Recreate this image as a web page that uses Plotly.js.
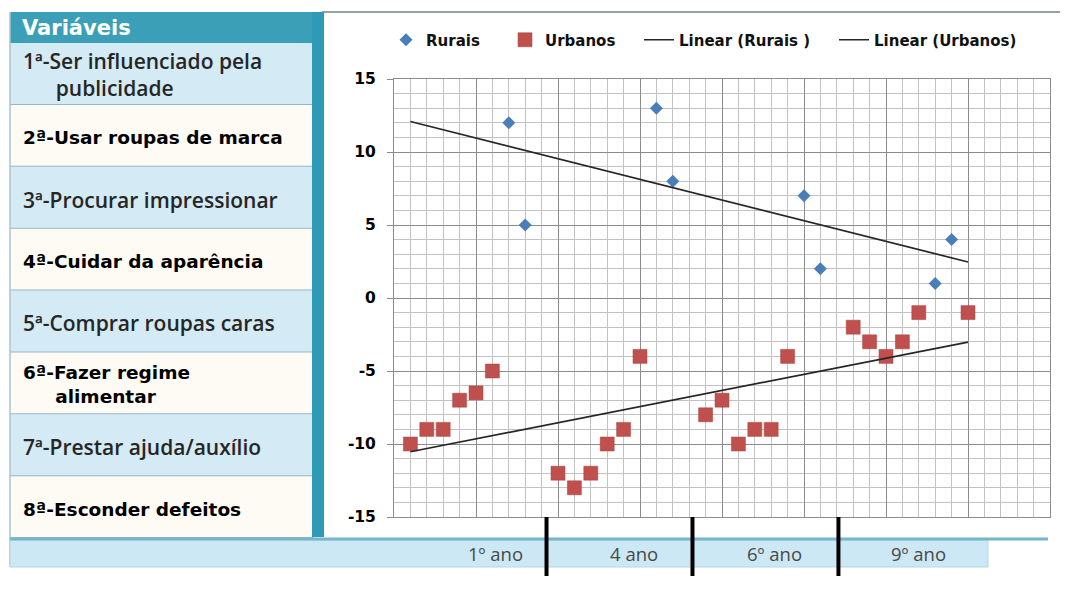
<!DOCTYPE html>
<html>
<head>
<meta charset="utf-8">
<script src="https://cdn.plot.ly/plotly-3.0.1.min.js"></script>
<style>html,body{margin:0;padding:0;background:#fff;}#chart{width:1067px;height:600px;}</style>
</head>
<body>
<div id="chart"></div>
<script>
// ---- data ----
const ruraisX = [7, 8, 16, 17, 25, 26, 33, 34];
const ruraisY = [12, 5, 13, 8, 7, 2, 1, 4];
const urbanosX = [1, 2, 3, 4, 5, 6, 10, 11, 12, 13, 14, 15, 19, 20, 21, 22, 23, 24, 28, 29, 30, 31, 32, 35];
const urbanosY = [-10, -9, -9, -7, -6.5, -5, -12, -13, -12, -10, -9, -4, -8, -7, -10, -9, -9, -4, -2, -3, -4, -3, -1, -1];
const seriesNames = ['Rurais', 'Urbanos', 'Linear (Rurais )', 'Linear (Urbanos)'];
const headerLabel = 'Variáveis';
const variaveis = [
  ['1ª-Ser influenciado pela', 'publicidade'],
  ['2ª-Usar roupas de marca'],
  ['3ª-Procurar impressionar'],
  ['4ª-Cuidar da aparência'],
  ['5ª-Comprar roupas caras'],
  ['6ª-Fazer regime', 'alimentar'],
  ['7ª-Prestar ajuda/auxílio'],
  ['8ª-Esconder defeitos']
];
const anos = ['1º ano', '4 ano', '6º ano', '9º ano'];
const yTickVals = [-15, -10, -5, 0, 5, 10, 15];

// ---- helpers ----
function fit(xs, ys) {
  const n = xs.length;
  const mx = xs.reduce((a, b) => a + b, 0) / n;
  const my = ys.reduce((a, b) => a + b, 0) / n;
  let sxy = 0, sxx = 0;
  for (let i = 0; i < n; i++) { sxy += (xs[i] - mx) * (ys[i] - my); sxx += (xs[i] - mx) * (xs[i] - mx); }
  const m = sxy / sxx;
  return { m: m, b: my - m * mx };
}
const allX = ruraisX.concat(urbanosX);
const xMin = Math.min.apply(null, allX), xMax = Math.max.apply(null, allX);
const fR = fit(ruraisX, ruraisY), fU = fit(urbanosX, urbanosY);

// pixel -> paper
const PL = 394, PR = 1050, PT = 79, PB = 517;
const px = x => (x - PL) / (PR - PL);
const py = y => (PB - y) / (PB - PT);

const TEAL = '#3a9fb7';
const LIGHT = '#d4eaf4';
const CREAM = '#fdfbf4';
const SEP = '#93b8c8';

const shapes = [];
const annotations = [];

// chart area top frame line
shapes.push({type: 'line', xref: 'paper', yref: 'paper', x0: px(322), x1: px(1060), y0: py(12), y1: py(12), line: {color: '#97a3a3', width: 2}});

// left table header
shapes.push({type: 'rect', xref: 'paper', yref: 'paper', x0: px(10), x1: px(313), y0: py(12), y1: py(43), fillcolor: TEAL, line: {width: 0}});
annotations.push({xref: 'paper', yref: 'paper', x: px(20), y: py(28), xanchor: 'left', yanchor: 'middle', showarrow: false,
  text: headerLabel, font: {family: 'DejaVu Sans', size: 21, color: '#ffffff', weight: 'bold'}});

// rows
const rowTop = 43, rowH = (538 - 43) / variaveis.length;
const NB = '\u00a0';
variaveis.forEach((lines, i) => {
  const y0 = rowTop + i * rowH, y1 = y0 + rowH;
  shapes.push({type: 'rect', xref: 'paper', yref: 'paper', x0: px(10), x1: px(313), y0: py(y0), y1: py(y1), fillcolor: i % 2 === 0 ? LIGHT : CREAM, line: {width: 0}});
  shapes.push({type: 'line', xref: 'paper', yref: 'paper', x0: px(10), x1: px(313), y0: py(y1), y1: py(y1), line: {color: SEP, width: 2}});
  const heavy = i % 2 === 1;
  const font = heavy
    ? {family: 'DejaVu Sans', size: 18.5, color: '#000000', weight: 'bold'}
    : {family: 'Open Sans', size: 21, color: '#262626', weight: 600};
  const cy = (y0 + y1) / 2;
  const indent = heavy ? NB.repeat(5) : NB.repeat(6);
  const txt = lines.length === 1 ? lines[0] : lines[0] + '<br>' + indent + lines[1];
  annotations.push({xref: 'paper', yref: 'paper', x: px(21), y: py(cy + (lines.length === 1 ? 2 : 1)), xanchor: 'left', yanchor: 'middle',
    align: 'left', showarrow: false, text: txt, font: font});
});
// table left border
shapes.push({type: 'line', xref: 'paper', yref: 'paper', x0: px(10), x1: px(10), y0: py(12), y1: py(567), line: {color: '#a9c3cf', width: 1.5}});
// teal vertical bar
shapes.push({type: 'rect', xref: 'paper', yref: 'paper', x0: px(312), x1: px(324), y0: py(12), y1: py(537), fillcolor: '#2f9ab5', line: {width: 0}});

// bottom band
shapes.push({type: 'rect', xref: 'paper', yref: 'paper', x0: px(10), x1: px(988), y0: py(540), y1: py(567), fillcolor: '#cde8f5', line: {color: '#b8d6e2', width: 1}});
shapes.push({type: 'line', xref: 'paper', yref: 'paper', x0: px(10), x1: px(1048), y0: py(539), y1: py(539), line: {color: '#74b6ca', width: 3}});

// year separators (data x, paper y)
[9.3, 18.2, 27.1].forEach(xv => {
  shapes.push({type: 'line', xref: 'x', yref: 'paper', x0: xv, x1: xv, y0: py(517), y1: py(576), line: {color: '#000000', width: 4}});
});
// year labels
const anoCenters = [495, 634, 774, 918];
anos.forEach((t, i) => {
  annotations.push({xref: 'paper', yref: 'paper', x: px(anoCenters[i]), y: py(553), xanchor: 'center', yanchor: 'middle', showarrow: false, text: t,
    font: {family: 'Open Sans', size: 18.5, color: '#484848'}});
});

const traces = [
  {type: 'scatter', mode: 'markers', name: seriesNames[0], x: ruraisX, y: ruraisY, legend: 'legend',
   marker: {symbol: 'diamond', size: 10, color: '#4a7ebb', line: {width: 0}}},
  {type: 'scatter', mode: 'markers', name: seriesNames[1], x: urbanosX, y: urbanosY, legend: 'legend2',
   marker: {symbol: 'square', size: 14, color: '#c0504d', line: {width: 0.5, color: '#a8403d'}}},
  {type: 'scatter', mode: 'lines', name: seriesNames[2], x: [xMin, xMax], y: [fR.m * xMin + fR.b, fR.m * xMax + fR.b], legend: 'legend3',
   line: {color: '#262626', width: 1.7}},
  {type: 'scatter', mode: 'lines', name: seriesNames[3], x: [xMin, xMax], y: [fU.m * xMin + fU.b, fU.m * xMax + fU.b], legend: 'legend4',
   line: {color: '#262626', width: 1.7}}
];

const legFont = {family: 'DejaVu Sans', size: 15, color: '#111111', weight: 'bold'};
function leg(xpix) {
  return {orientation: 'h', x: px(xpix), y: py(40), xanchor: 'left', yanchor: 'middle', font: legFont,
    bgcolor: 'rgba(0,0,0,0)', borderwidth: 0, itemsizing: 'trace'};
}

const layout = {
  width: 1067, height: 600,
  margin: {l: PL, r: 1067 - PR, t: PT, b: 600 - PB, pad: 0},
  paper_bgcolor: '#ffffff', plot_bgcolor: '#ffffff',
  showlegend: true,
  legend: leg(386), legend2: leg(505), legend3: leg(639), legend4: leg(834),
  xaxis: {range: [0, 40], dtick: 5, tick0: 0, showticklabels: false, ticks: '', showgrid: true, gridcolor: '#8c8c8c', gridwidth: 1,
    minor: {dtick: 1, showgrid: true, gridcolor: '#c2c2c2', gridwidth: 1, ticks: ''},
    zeroline: false, showline: true, mirror: true, linecolor: '#8c8c8c', linewidth: 1, fixedrange: true},
  yaxis: {range: [-15, 15], tickvals: yTickVals, ticktext: yTickVals.map(String), ticks: 'outside', ticklen: 6, tickcolor: '#8c8c8c',
    ticklabelstandoff: 8, tickfont: {family: 'DejaVu Sans', size: 15.5, color: '#000000', weight: 'bold'},
    showgrid: true, gridcolor: '#8c8c8c', gridwidth: 1,
    minor: {dtick: 1, tick0: 0, showgrid: true, gridcolor: '#c2c2c2', gridwidth: 1, ticks: ''},
    zeroline: false, showline: true, mirror: true, linecolor: '#8c8c8c', linewidth: 1, fixedrange: true},
  shapes: shapes,
  annotations: annotations
};

Plotly.newPlot('chart', traces, layout, {displayModeBar: false, staticPlot: true});
</script>
</body>
</html>
